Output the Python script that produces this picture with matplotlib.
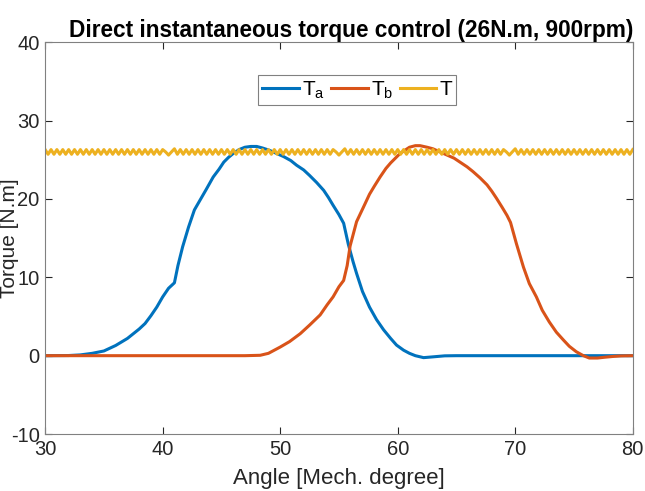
import numpy as np
import matplotlib
matplotlib.use('Agg')
import matplotlib.pyplot as plt

plt.rcParams['font.family'] = ['Liberation Sans', 'DejaVu Sans']
plt.rcParams['mathtext.fontset'] = 'custom'
plt.rcParams['mathtext.rm'] = 'Liberation Sans'
plt.rcParams['axes.unicode_minus'] = False

# phase a torque (angle [deg], torque [N.m])
ta_angle = [30, 32, 33, 34, 35, 36, 37, 38, 38.5, 39, 39.5, 40, 40.5, 41.0, 41.3,
            41.7, 42.2, 42.7, 43.2, 43.7, 44.3, 44.8, 45.2, 45.6, 46.0, 46.5, 47.0,
            47.5, 48.0, 48.5, 49.1, 49.7, 50.3, 50.9, 51.4, 52.0, 52.5, 53.1, 53.7,
            54.1, 54.5, 55.0, 55.4, 55.8, 56.2, 56.5, 57.0, 57.6, 58.2, 58.8, 59.4,
            59.9, 60.5, 61.0, 61.5, 62.2, 63.0, 64.0, 65, 80]
ta_value = [0, 0.02, 0.1, 0.3, 0.6, 1.3, 2.2, 3.4, 4.1, 5.1, 6.2, 7.5, 8.6, 9.3, 11.5,
            13.9, 16.4, 18.6, 19.9, 21.2, 22.8, 23.8, 24.7, 25.3, 25.8, 26.3, 26.6,
            26.7, 26.7, 26.5, 26.2, 25.8, 25.4, 24.9, 24.3, 23.7, 23.0, 22.1, 21.1,
            20.2, 19.2, 18.0, 16.9, 14.2, 12.0, 10.5, 8.2, 6.2, 4.6, 3.3, 2.2,
            1.35, 0.7, 0.3, 0.0, -0.25, -0.15, -0.02, 0, 0]

# phase b torque
tb_angle = [30, 47, 48.3, 49.0, 50.0, 50.8, 51.7, 52.5, 53.4, 54.0, 54.5, 55.0, 55.4,
            55.7, 55.95, 56.5, 57.1, 57.6, 58.0, 58.5, 59.0, 59.4, 59.8, 60.2, 60.6,
            61.0, 61.5, 61.9, 62.5, 63.0, 63.6, 64.2, 64.8, 65.3, 65.9, 66.4, 67.0,
            67.6, 68.0, 68.4, 68.9, 69.3, 69.6, 70.1, 70.7, 71.2, 71.8, 72.3, 72.9,
            73.5, 74.1, 74.6, 75.2, 75.8, 76.3, 77.0, 77.6, 78.3, 79, 80]
tb_value = [0, 0, 0.05, 0.3, 1.1, 1.8, 2.8, 3.9, 5.2, 6.5, 7.5, 8.8, 9.6,
            11.5, 14.0, 17.1, 19.0, 20.6, 21.6, 22.8, 23.9, 24.6, 25.2, 25.8, 26.2,
            26.6, 26.8, 26.8, 26.6, 26.4, 26.0, 25.6, 25.2, 24.7, 24.1, 23.5, 22.7,
            21.8, 21.0, 20.1, 18.9, 17.9, 17.0, 14.3, 11.3, 9.2, 7.5, 5.8, 4.3,
            3.0, 2.0, 1.2, 0.5, 0.0, -0.3, -0.3, -0.2, -0.1, -0.03, 0]

# total torque, sampled every 0.25 deg from 30 to 80
t_angle = np.arange(30, 80.001, 0.25)
t_value = [
    26.3, 25.7, 26.3, 25.7, 26.3, 25.7, 26.3, 25.7, 26.3, 25.7, 26.3, 25.7, 26.3, 25.7, 26.3, 25.7, 26.3, 25.7, 26.3, 25.7,
    26.3, 25.7, 26.3, 25.7, 26.3, 25.7, 26.3, 25.7, 26.3, 25.7, 26.3, 25.7, 26.3, 25.7, 26.3, 25.7, 26.3, 25.7, 26.3, 25.7,
    26.3, 26.0, 25.6, 26.0, 26.4, 25.7, 26.3, 25.7, 26.3, 25.7, 26.3, 25.7, 26.3, 25.7, 26.3, 25.7, 26.3, 25.7, 26.3, 25.7,
    26.3, 25.7, 26.3, 25.7, 26.3, 25.7, 26.3, 25.7, 26.3, 25.7, 26.3, 25.7, 26.3, 25.7, 26.3, 25.7, 26.3, 25.7, 26.3, 25.7,
    26.3, 25.7, 26.3, 25.7, 26.3, 25.7, 26.3, 25.7, 26.3, 25.7, 26.3, 25.7, 26.3, 25.7, 26.3, 25.7, 26.3, 25.7, 26.3, 26.0,
    25.6, 26.0, 26.4, 25.7, 26.3, 25.7, 26.3, 25.7, 26.3, 25.7, 26.3, 25.7, 26.3, 25.7, 26.3, 25.7, 26.3, 25.7, 26.3, 25.7,
    26.3, 25.7, 26.3, 25.7, 26.3, 25.7, 26.3, 25.7, 26.3, 25.7, 26.3, 25.7, 26.3, 25.7, 26.3, 25.7, 26.3, 25.7, 26.3, 25.7,
    26.3, 25.7, 26.3, 25.7, 26.3, 25.7, 26.3, 25.7, 26.3, 25.7, 26.3, 25.7, 26.3, 25.7, 26.3, 25.7, 26.3, 26.0, 25.6, 26.0,
    26.4, 25.7, 26.3, 25.7, 26.3, 25.7, 26.3, 25.7, 26.3, 25.7, 26.3, 25.7, 26.3, 25.7, 26.3, 25.7, 26.3, 25.7, 26.3, 25.7,
    26.3, 25.7, 26.3, 25.7, 26.3, 25.7, 26.3, 25.7, 26.3, 25.7, 26.3, 25.7, 26.3, 25.7, 26.3, 25.7, 26.3, 25.7, 26.3, 25.7,
    26.3,
]

fig = plt.figure(figsize=(6.45, 4.91), dpi=100)
ax = fig.add_axes([0.070, 0.116, 0.911, 0.798])

ax.plot(ta_angle, ta_value, color='#0072BD', lw=2.2, label=r'$\mathregular{T_a}$')
ax.plot(tb_angle, tb_value, color='#D95319', lw=2.2, label=r'$\mathregular{T_b}$')
ax.plot(t_angle, t_value, color='#EDB120', lw=2.2, label='T')

ax.set_xlim(30, 80)
ax.set_ylim(-10, 40)
ax.set_xticks([30, 40, 50, 60, 70, 80])
ax.set_yticks([-10, 0, 10, 20, 30, 40])
ax.tick_params(direction='in', top=True, right=True, length=5, width=0.8,
               labelsize=14.5, colors='#262626', pad=4)
for s in ax.spines.values():
    s.set_color('#808080')
    s.set_linewidth(0.8)

ax.set_title('Direct instantaneous torque control (26N.m, 900rpm)',
             fontsize=16.3, fontweight='bold', pad=4, x=0.52)
ax.set_xlabel('Angle [Mech. degree]', fontsize=16, color='#262626', labelpad=7)
ax.set_ylabel('Torque [N.m]', fontsize=15, color='#262626')
ax.yaxis.set_label_coords(-0.045, 0.5)

leg = ax.legend(loc='upper center', bbox_to_anchor=(0.531, 0.916), ncol=3,
                fontsize=15, fancybox=False, edgecolor='#808080',
                handlelength=1.75, handletextpad=0.15, columnspacing=0.3,
                borderpad=0.2, borderaxespad=0, framealpha=1)
leg.get_frame().set_linewidth(0.8)

fig.savefig('out.png', dpi=100)
